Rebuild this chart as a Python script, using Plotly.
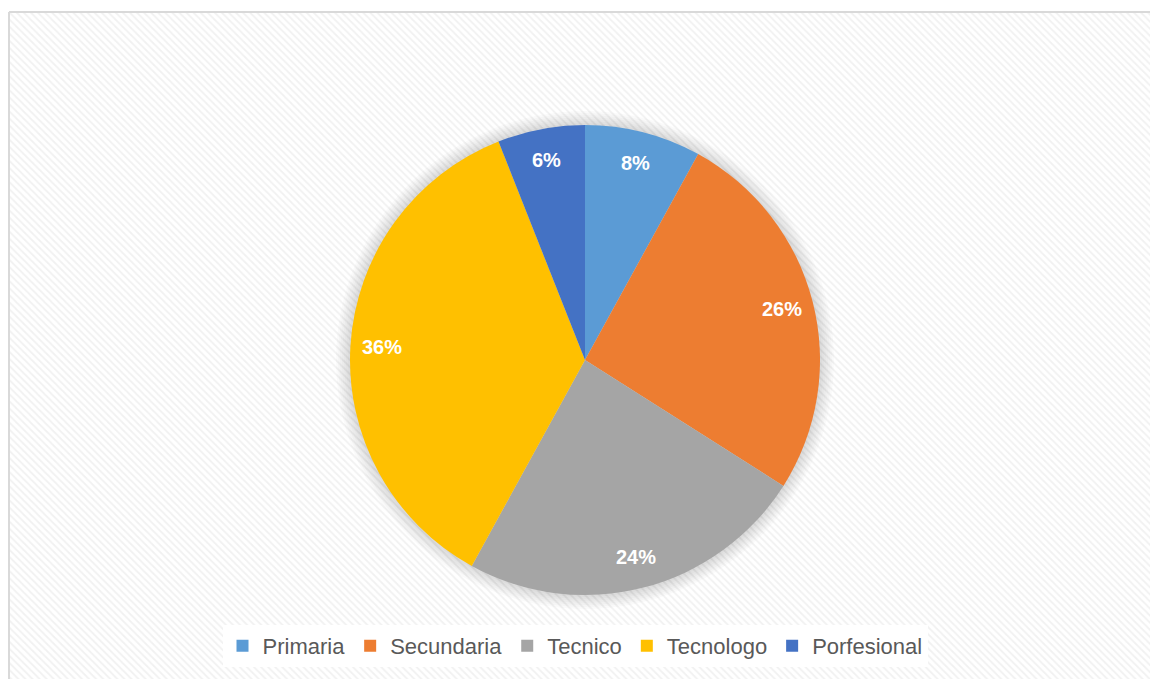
import math
import plotly.graph_objects as go

# ---- data ----
categories = ["Primaria", "Secundaria", "Tecnico", "Tecnologo", "Porfesional"]
counts = [4, 13, 12, 18, 3]
colors = ["#5B9BD5", "#ED7D31", "#A5A5A5", "#FFC000", "#4472C4"]

W, H = 1150, 679
cx, cy, r = 585, 360, 235  # pie centre / radius in pixels
frame_left, frame_top = 9, 12
label_radius = 0.865


def dom(rad):
    return dict(x=[(cx - rad) / W, (cx + rad) / W],
                y=[(H - cy - rad) / H, (H - cy + rad) / H])


fig = go.Figure()

# hatched chart-area background
fig.add_trace(go.Bar(
    x=[0.5], y=[1], width=[1],
    marker=dict(color="white", line_width=0,
                pattern=dict(shape="\\", fgcolor="#e4e4e4", bgcolor="white",
                             size=5, solidity=0.35)),
    hoverinfo="skip", showlegend=False))

# soft shadow around the pie
for k in range(14, 0, -2):
    fig.add_trace(go.Pie(
        values=[1], labels=[" "], domain=dom(r + k), sort=False,
        marker=dict(colors=["rgba(0,0,0,0.02)"], line_width=0),
        textinfo="none", hoverinfo="skip", showlegend=False))

# main pie
fig.add_trace(go.Pie(
    labels=categories, values=counts, domain=dom(r),
    sort=False, direction="clockwise", rotation=0,
    marker=dict(colors=colors, line_width=0),
    textinfo="none", hoverinfo="label+percent"))

# percentage labels placed like Excel's best-fit (derived from the data)
total = sum(counts)
annotations = []
cum = 0
for v in counts:
    theta = 2 * math.pi * (cum + v / 2) / total
    cum += v
    d = label_radius * r
    px = cx + d * math.sin(theta)
    py = cy - d * math.cos(theta)
    annotations.append(dict(
        x=px / W, y=(H - py) / H, xref="paper", yref="paper",
        xanchor="center", yanchor="middle",
        text=f"{round(100 * v / total)}%", showarrow=False,
        font=dict(family="Liberation Sans", size=20, color="white", weight="bold")))

fig.update_layout(
    width=W, height=H,
    margin=dict(l=0, r=0, t=0, b=0),
    paper_bgcolor="white", plot_bgcolor="white",
    xaxis=dict(range=[0, 1], domain=[frame_left / W, 1], visible=False, fixedrange=True),
    yaxis=dict(range=[0, 1], domain=[0, (H - frame_top) / H], visible=False, fixedrange=True),
    showlegend=True,
    legend=dict(orientation="h", x=0.5, xanchor="center", y=(H - 667) / H, yanchor="bottom",
                bgcolor="white", font=dict(family="Liberation Sans", size=22, color="#595959"),
                traceorder="normal", itemwidth=30),
    annotations=annotations,
    shapes=[
        dict(type="line", xref="paper", yref="paper",
             x0=frame_left / W, x1=frame_left / W, y0=0, y1=(H - frame_top) / H,
             line=dict(color="#d9d9d9", width=2)),
        dict(type="line", xref="paper", yref="paper",
             x0=frame_left / W, x1=1, y0=(H - frame_top) / H, y1=(H - frame_top) / H,
             line=dict(color="#d9d9d9", width=2)),
    ],
)

fig.write_html("out.html", config={"displayModeBar": False},
               post_script="document.body.style.margin='0';document.body.style.overflow='hidden';")
